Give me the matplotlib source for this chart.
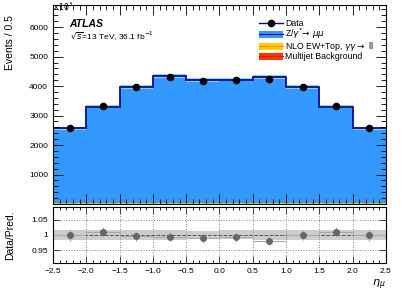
import numpy as np
import matplotlib.pyplot as plt
from matplotlib.ticker import MultipleLocator, FixedLocator
from matplotlib.patches import Patch
from matplotlib.lines import Line2D

plt.rcParams['font.family'] = ['Liberation Sans', 'DejaVu Sans']

# eta_mu bins and yields
edges = [-2.5, -2.0, -1.5, -1.0, -0.5, 0.0, 0.5, 1.0, 1.5, 2.0, 2.5]
zmumu = [2540, 3270, 3930, 4290, 4160, 4180, 4270, 3930, 3265, 2535]
ewtop = [20, 25, 28, 30, 30, 30, 30, 28, 25, 20]
multijet = [8, 9, 10, 10, 10, 10, 10, 10, 9, 8]
mc_err = [40, 50, 60, 65, 62, 63, 65, 60, 50, 40]
data = [2568, 3337, 3958, 4302, 4158, 4193, 4230, 3966, 3333, 2563]

edges = np.array(edges)
centers = 0.5 * (edges[1:] + edges[:-1])
half = 0.5 * np.diff(edges)
zmumu = np.array(zmumu)
ewtop = np.array(ewtop)
multijet = np.array(multijet)
mc_err = np.array(mc_err)
data = np.array(data)

total = zmumu + ewtop + multijet
ratio = data / total
rel_err = mc_err / total

c_z = '#3399ff'
c_band = '#99ccf5'
c_line = '#000d99'
c_ew = '#ffcc00'
c_mj = '#ff3300'

fig = plt.figure(figsize=(4.11, 2.97), dpi=100)
ax = fig.add_axes([0.129, 0.313, 0.810, 0.670])
rx = fig.add_axes([0.129, 0.1145, 0.810, 0.1886])


def step(vals):
    return np.append(vals, vals[-1])


# stacked histograms
ax.stairs(multijet, edges, baseline=0, fill=True, color=c_mj, lw=0)
ax.stairs(multijet + ewtop, edges, baseline=multijet, fill=True, color=c_ew, lw=0)
ax.stairs(total, edges, baseline=multijet + ewtop, fill=True, color=c_z, lw=0)
ax.fill_between(edges, step(total - mc_err), step(total + mc_err), step='post',
                color=c_band, lw=0)
ax.stairs(total, edges, baseline=None, color=c_line, lw=1.3)
ax.errorbar(centers, data, yerr=np.sqrt(data), fmt='o', color='black', ms=4.5,
            elinewidth=0.8, capsize=0)

ax.set_xlim(-2.5, 2.5)
ax.set_ylim(0, 6750)
ax.yaxis.set_major_locator(FixedLocator([1000, 2000, 3000, 4000, 5000, 6000]))
ax.yaxis.set_minor_locator(MultipleLocator(200))
ax.xaxis.set_major_locator(MultipleLocator(0.5))
ax.xaxis.set_minor_locator(MultipleLocator(0.1))
ax.tick_params(which='both', direction='in', top=True, right=True, labelsize=6,
               labelbottom=False, width=0.6)
ax.tick_params(which='major', length=7)
ax.tick_params(which='minor', length=3.5)
ax.set_ylabel('Events / 0.5', fontsize=7.5)
ax.yaxis.set_label_coords(-0.115, 0.81)
for s in ax.spines.values():
    s.set_linewidth(0.8)

fig.text(0.127, 0.998, r'$\times10^{3}$', fontsize=5.5, ha='left', va='top')
ax.text(0.05, 0.905, 'ATLAS', transform=ax.transAxes, fontsize=7.5,
        fontweight='bold', fontstyle='italic', va='center')
ax.text(0.05, 0.843, r'$\sqrt{s}$=13 TeV, 36.1 fb$^{-1}$', transform=ax.transAxes,
        fontsize=6, va='center')

handles = [
    Line2D([], [], color=c_line, marker='o', mfc='black', mec='black', ms=4.5, lw=1),
    (Patch(facecolor=c_z, lw=0), Line2D([], [], color=c_line, lw=0.8)),
    (Patch(facecolor=c_ew, lw=0), Line2D([], [], color='#ff8800', lw=0.8)),
    (Patch(facecolor=c_mj, lw=0), Line2D([], [], color='#cc2200', lw=0.8)),
]
labels = ['Data', r'Z/$\gamma^{*}\!\rightarrow\,\mu\mu$',
          r'NLO EW+Top, $\gamma\gamma\rightarrow$ ll', 'Multijet Background']
ax.legend(handles, labels, loc='upper left', bbox_to_anchor=(0.6, 0.96),
          frameon=False, fontsize=6.3, handlelength=2.7, handleheight=0.8,
          labelspacing=-0.12, handletextpad=0.3, borderpad=0.2)

# ratio panel
rx.fill_between(edges, step(1 - rel_err), step(1 + rel_err), step='post',
                color='#cccccc', lw=0)
rx.axhline(1.0, color='#555555', ls='--', lw=0.7)
for yv in (0.95, 1.05):
    rx.axhline(yv, color='#888888', ls=':', lw=0.7)
for xv in np.arange(-2.0, 2.5, 0.5):
    rx.axvline(xv, color='#888888', ls=':', lw=0.7)
rx.errorbar(centers, ratio, xerr=half, yerr=np.sqrt(data) / total, fmt='o',
            color='#666666', ecolor='#aaaaaa', ms=4, elinewidth=0.8, capsize=0)

rx.set_xlim(-2.5, 2.5)
rx.set_ylim(0.907, 1.093)
rx.yaxis.set_major_locator(FixedLocator([0.95, 1.0, 1.05]))
rx.yaxis.set_major_formatter(plt.FuncFormatter(lambda v, p: f'{v:g}'))
rx.xaxis.set_major_locator(MultipleLocator(0.5))
rx.xaxis.set_minor_locator(MultipleLocator(0.1))
rx.tick_params(which='both', direction='in', top=True, right=True, labelsize=6,
               width=0.6)
rx.tick_params(which='major', length=5)
rx.tick_params(which='minor', length=2.5)
rx.set_ylabel('Data/Pred.', fontsize=7.5)
rx.yaxis.set_label_coords(-0.115, 0.5)
rx.set_xlabel(r'$\eta_{\mu}$', fontsize=8, loc='right', labelpad=2)
for s in rx.spines.values():
    s.set_linewidth(0.8)

fig.savefig('out.png', dpi=100)
